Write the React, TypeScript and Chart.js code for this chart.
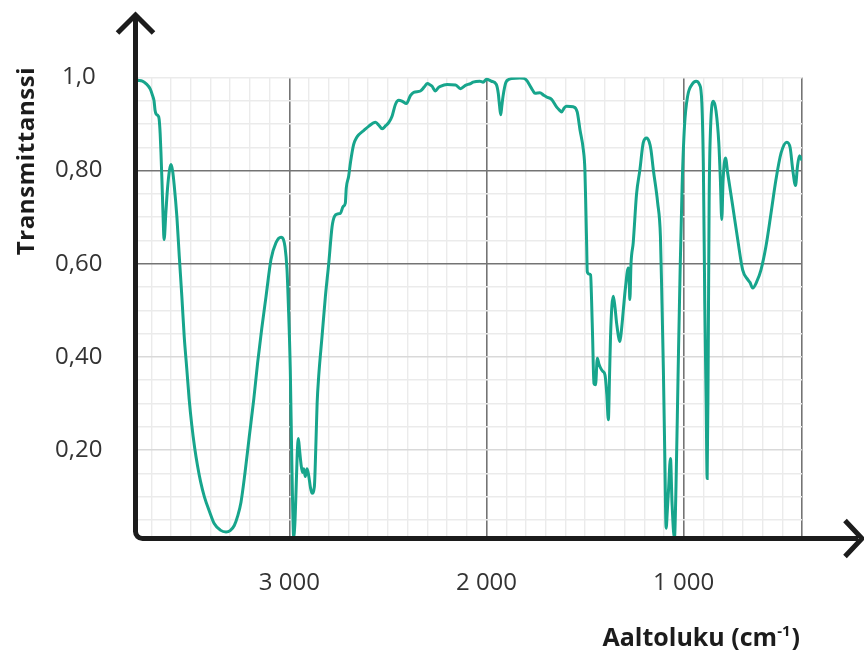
import React, { useEffect, useRef } from 'react';
import { Chart, registerables } from 'chart.js';

Chart.register(...registerables);

// IR spectrum: wavenumber (cm^-1), descending, and transmittance
const wavenumbers = [
  3780, 3770, 3745, 3727, 3705, 3694, 3686, 3681, 3676, 3666, 3660, 3655, 3651, 3646, 3640, 3635,
  3626, 3618, 3608, 3600, 3592, 3584, 3570, 3558, 3545, 3533, 3520, 3508, 3495, 3480, 3465, 3450,
  3431, 3405, 3381, 3350, 3321, 3300, 3279, 3262, 3245, 3225, 3203, 3180, 3161, 3140, 3118, 3093,
  3068, 3042, 3030, 3022, 3012, 3005, 2995, 2988, 2983, 2978, 2972, 2966, 2960, 2954, 2948, 2941,
  2933, 2927, 2919, 2910, 2902, 2893, 2885, 2873, 2866, 2859, 2851, 2834, 2817, 2800, 2783, 2771,
  2755, 2741, 2727, 2716, 2711, 2699, 2690, 2674, 2660, 2648, 2623, 2598, 2563, 2545, 2529, 2510,
  2496, 2479, 2462, 2445, 2428, 2406, 2386, 2369, 2335, 2315, 2301, 2285, 2276, 2259, 2245, 2234,
  2200, 2157, 2132, 2107, 2081, 2068, 2034, 2017, 2000, 1975, 1950, 1940, 1934, 1928, 1922, 1916,
  1902, 1885, 1873, 1831, 1810, 1797, 1780, 1765, 1754, 1729, 1710, 1695, 1670, 1645, 1630, 1619,
  1605, 1594, 1560, 1540, 1526, 1509, 1501, 1496, 1492, 1489, 1480, 1472, 1467, 1462, 1455, 1447,
  1438, 1430, 1421, 1410, 1399, 1390, 1382, 1376, 1371, 1364, 1357, 1348, 1340, 1323, 1315, 1306,
  1295, 1281, 1276, 1273, 1267, 1256, 1239, 1222, 1205, 1188, 1175, 1166, 1154, 1132, 1118, 1110,
  1103, 1096, 1089, 1083, 1077, 1067, 1059, 1047, 1039, 1028, 1018, 1008, 996, 980, 958, 937,
  920, 908, 900, 893, 886, 881, 876, 871, 864, 849, 836, 822, 814, 807, 800, 788,
  777, 751, 726, 701, 675, 664, 650, 629, 608, 583, 557, 532, 506, 477, 460, 447,
  433, 423, 413, 400,
];

const transmittance = [
  0.995, 0.994, 0.992, 0.987, 0.975, 0.962, 0.950, 0.930, 0.922, 0.918, 0.910, 0.880, 0.840, 0.780, 0.700, 0.652,
  0.710, 0.760, 0.800, 0.813, 0.800, 0.770, 0.700, 0.616, 0.530, 0.444, 0.375, 0.310, 0.255, 0.205, 0.165, 0.132,
  0.100, 0.068, 0.042, 0.028, 0.024, 0.027, 0.038, 0.058, 0.088, 0.150, 0.229, 0.310, 0.386, 0.460, 0.530, 0.609,
  0.645, 0.657, 0.652, 0.637, 0.590, 0.515, 0.372, 0.193, 0.080, 0.014, 0.040, 0.110, 0.190, 0.225, 0.200, 0.171,
  0.152, 0.160, 0.143, 0.160, 0.146, 0.120, 0.107, 0.121, 0.200, 0.300, 0.358, 0.444, 0.530, 0.601, 0.680, 0.702,
  0.707, 0.708, 0.723, 0.730, 0.763, 0.788, 0.817, 0.856, 0.870, 0.877, 0.886, 0.895, 0.904, 0.897, 0.890, 0.897,
  0.903, 0.917, 0.942, 0.951, 0.949, 0.944, 0.961, 0.968, 0.971, 0.980, 0.987, 0.984, 0.981, 0.971, 0.978, 0.981,
  0.985, 0.984, 0.976, 0.983, 0.987, 0.990, 0.992, 0.990, 0.996, 0.992, 0.985, 0.965, 0.940, 0.920, 0.940, 0.960,
  0.989, 0.996, 0.998, 0.999, 0.998, 0.994, 0.983, 0.972, 0.966, 0.967, 0.962, 0.958, 0.953, 0.937, 0.930, 0.926,
  0.935, 0.938, 0.937, 0.926, 0.888, 0.845, 0.802, 0.716, 0.640, 0.583, 0.578, 0.576, 0.520, 0.444, 0.343, 0.340,
  0.397, 0.385, 0.376, 0.369, 0.361, 0.320, 0.265, 0.360, 0.444, 0.510, 0.530, 0.505, 0.472, 0.433, 0.460, 0.501,
  0.550, 0.591, 0.560, 0.523, 0.601, 0.645, 0.750, 0.802, 0.860, 0.870, 0.862, 0.845, 0.802, 0.731, 0.659, 0.515,
  0.372, 0.193, 0.032, 0.070, 0.114, 0.182, 0.085, 0.010, 0.121, 0.372, 0.587, 0.766, 0.895, 0.960, 0.985, 0.992,
  0.985, 0.946, 0.802, 0.515, 0.300, 0.139, 0.372, 0.731, 0.888, 0.949, 0.928, 0.860, 0.781, 0.695, 0.781, 0.827,
  0.795, 0.723, 0.652, 0.587, 0.566, 0.560, 0.548, 0.562, 0.587, 0.637, 0.709, 0.781, 0.838, 0.861, 0.849, 0.802,
  0.768, 0.809, 0.832, 0.822,
];

const yTickValues = [0.2, 0.4, 0.6, 0.8, 1.0];
const yTickLabels = ['0,20', '0,40', '0,60', '0,80', '1,0'];
const xTickValues = [3000, 2000, 1000];
const xTickLabels = ['3 000', '2 000', '1 000'];

const yTitle = 'Transmittanssi';
const xTitle = 'Aaltoluku (cm';
const xTitleSup = '-1';
const xTitleEnd = ')';

const X_MIN = 400;
const X_MAX = 3780;
const Y_MIN = 0.01;
const Y_MAX = 1.0;

const LINE_COLOR = '#17a58c';
const AXIS_COLOR = '#1c1c1c';
const MAJOR_GRID = '#747474';
const MID_GRID = '#d9d9d9';
const MINOR_GRID = '#ebebeb';
const TEXT_COLOR = '#333333';
const FONT = "'Open Sans', 'Noto Sans', sans-serif";

const near = (a: number, b: number) => Math.abs(a - b) < 1e-6;

// Thick black axes with open arrowheads and the two axis titles
const axesPlugin = {
  id: 'arrowAxes',
  afterDraw(chart: any) {
    const { ctx, chartArea } = chart;
    const x0 = chartArea.left;
    const y0 = chartArea.bottom;
    const r = 7;
    ctx.save();
    ctx.strokeStyle = AXIS_COLOR;
    ctx.lineWidth = 5;
    ctx.lineJoin = 'miter';
    ctx.lineCap = 'butt';
    ctx.beginPath();
    ctx.moveTo(x0, 16);
    ctx.lineTo(x0, y0 - r);
    ctx.arcTo(x0, y0, x0 + r, y0, r);
    ctx.lineTo(858, y0);
    ctx.stroke();

    // arrowheads
    ctx.beginPath();
    ctx.moveTo(x0 - 18, 33);
    ctx.lineTo(x0, 15);
    ctx.lineTo(x0 + 18, 33);
    ctx.stroke();
    ctx.beginPath();
    ctx.moveTo(845, y0 - 18);
    ctx.lineTo(862, y0);
    ctx.lineTo(845, y0 + 18);
    ctx.stroke();

    // y title
    ctx.fillStyle = AXIS_COLOR;
    ctx.font = `bold 24px ${FONT}`;
    ctx.letterSpacing = '0.6px';
    ctx.textAlign = 'center';
    ctx.textBaseline = 'middle';
    ctx.save();
    ctx.translate(27, 161);
    ctx.rotate(-Math.PI / 2);
    ctx.fillText(yTitle, 0, 0);
    ctx.restore();
    ctx.letterSpacing = '0px';

    // x title with superscript
    const mainFont = `bold 25px ${FONT}`;
    const supFont = `bold 15px ${FONT}`;
    ctx.textBaseline = 'alphabetic';
    ctx.textAlign = 'left';
    ctx.font = mainFont;
    const w1 = ctx.measureText(xTitle).width;
    const w3 = ctx.measureText(xTitleEnd).width;
    ctx.font = supFont;
    const w2 = ctx.measureText(xTitleSup).width;
    const right = 800;
    const baseY = 646;
    let x = right - (w1 + w2 + w3 + 1);
    ctx.font = mainFont;
    ctx.fillText(xTitle, x, baseY);
    x += w1;
    ctx.font = supFont;
    ctx.fillText(xTitleSup, x, baseY - 10);
    x += w2 + 1;
    ctx.font = mainFont;
    ctx.fillText(xTitleEnd, x, baseY);
    ctx.restore();
  },
};

export default function App() {
  const canvasRef = useRef<HTMLCanvasElement | null>(null);

  useEffect(() => {
    const canvas = canvasRef.current;
    if (!canvas) return;
    const points = wavenumbers.map((w, i) => ({ x: w, y: transmittance[i] }));

    const chart = new Chart(canvas, {
      type: 'line',
      data: {
        datasets: [
          {
            data: points,
            borderColor: LINE_COLOR,
            borderWidth: 3,
            pointRadius: 0,
            fill: false,
            cubicInterpolationMode: 'monotone',
          },
        ],
      },
      options: {
        animation: false,
        responsive: false,
        devicePixelRatio: 1,
        layout: { padding: { left: 0, top: 77.5, right: 62, bottom: 0 } },
        plugins: { legend: { display: false }, tooltip: { enabled: false } },
        scales: {
          x: {
            type: 'linear',
            reverse: true,
            min: X_MIN,
            max: X_MAX,
            afterFit: (s: any) => {
              s.height = 650 - 538.5;
            },
            afterBuildTicks: (s: any) => {
              const t = [];
              for (let v = 400; v <= 3700; v += 100) t.push({ value: v });
              s.ticks = t;
            },
            ticks: {
              autoSkip: false,
              maxRotation: 0,
              padding: 30,
              color: TEXT_COLOR,
              font: { family: FONT, size: 24 },
              callback: (value: any) => {
                const i = xTickValues.findIndex((v) => near(v, Number(value)));
                return i >= 0 ? xTickLabels[i] : '';
              },
            },
            grid: {
              drawTicks: false,
              color: (c: any) => {
                const v = c.tick ? c.tick.value : 0;
                return v % 1000 === 0 || v === 400 ? MAJOR_GRID : MINOR_GRID;
              },
              lineWidth: (c: any) => {
                const v = c.tick ? c.tick.value : 0;
                return v % 1000 === 0 || v === 400 ? 1.6 : 1.4;
              },
            },
            border: { display: false },
          },
          y: {
            type: 'linear',
            min: Y_MIN,
            max: Y_MAX,
            afterFit: (s: any) => {
              s.width = 135.5;
            },
            afterBuildTicks: (s: any) => {
              const t = [];
              for (let i = 1; i <= 20; i++) t.push({ value: Math.round(i * 5) / 100 });
              s.ticks = t;
            },
            ticks: {
              autoSkip: false,
              padding: 33,
              crossAlign: 'center',
              color: TEXT_COLOR,
              font: { family: FONT, size: 24 },
              callback: (value: any) => {
                const i = yTickValues.findIndex((v) => near(v, Number(value)));
                return i >= 0 ? yTickLabels[i] : '';
              },
            },
            grid: {
              drawTicks: false,
              color: (c: any) => {
                const v = c.tick ? c.tick.value : 0;
                if (near(v, 0.6) || near(v, 0.8)) return MAJOR_GRID;
                if (near(v, 0.2) || near(v, 0.4)) return MID_GRID;
                return MINOR_GRID;
              },
              lineWidth: (c: any) => {
                const v = c.tick ? c.tick.value : 0;
                return near(v, 0.6) || near(v, 0.8) ? 1.6 : 1.4;
              },
            },
            border: { display: false },
          },
        },
      } as any,
      plugins: [axesPlugin],
    });

    return () => chart.destroy();
  }, []);

  return (
    <div style={{ position: 'fixed', left: 0, top: 0, width: 864, height: 650, background: '#ffffff' }}>
      <canvas ref={canvasRef} width={864} height={650} style={{ display: 'block', width: 864, height: 650 }} />
    </div>
  );
}
